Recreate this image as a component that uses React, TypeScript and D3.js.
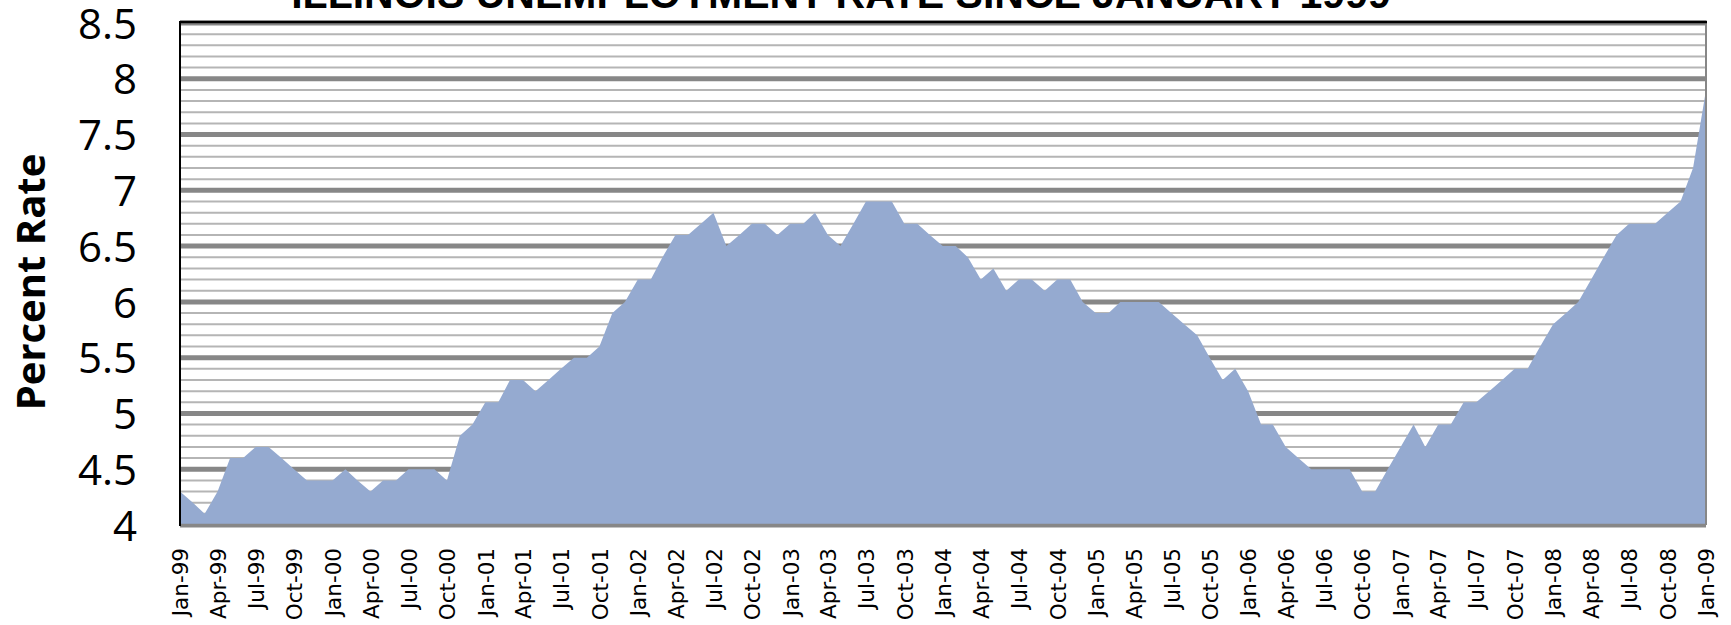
import { useEffect, useRef } from 'react'

import { area, axisBottom, axisLeft, range, scaleLinear, scaleTime, select, timeFormat } from 'd3'

const WIDTH = 1731
const HEIGHT = 625

const title = 'ILLINOIS UNEMPLOYMENT RATE SINCE JANUARY 1999'
const yAxisTitle = 'Percent Rate'

// monthly rate, Jan 1999 .. Jan 2009
const rates = [
  4.3, 4.2, 4.1, 4.3, 4.6, 4.6, 4.7, 4.7, 4.6, 4.5, 4.4, 4.4,
  4.4, 4.5, 4.4, 4.3, 4.4, 4.4, 4.5, 4.5, 4.5, 4.4, 4.8, 4.9,
  5.1, 5.1, 5.3, 5.3, 5.2, 5.3, 5.4, 5.5, 5.5, 5.6, 5.9, 6.0,
  6.2, 6.2, 6.4, 6.6, 6.6, 6.7, 6.8, 6.5, 6.6, 6.7, 6.7, 6.6,
  6.7, 6.7, 6.8, 6.6, 6.5, 6.7, 6.9, 6.9, 6.9, 6.7, 6.7, 6.6,
  6.5, 6.5, 6.4, 6.2, 6.3, 6.1, 6.2, 6.2, 6.1, 6.2, 6.2, 6.0,
  5.9, 5.9, 6.0, 6.0, 6.0, 6.0, 5.9, 5.8, 5.7, 5.5, 5.3, 5.4,
  5.2, 4.9, 4.9, 4.7, 4.6, 4.5, 4.5, 4.5, 4.5, 4.3, 4.3, 4.5,
  4.7, 4.9, 4.7, 4.9, 4.9, 5.1, 5.1, 5.2, 5.3, 5.4, 5.4, 5.6,
  5.8, 5.9, 6.0, 6.2, 6.4, 6.6, 6.7, 6.7, 6.7, 6.8, 6.9, 7.2,
  7.9,
]

const months = rates.map((_, index) => new Date(1999, index, 1))
const yTicks = [4, 4.5, 5, 5.5, 6, 6.5, 7, 7.5, 8, 8.5]
const xTicks = months.filter((_, index) => index % 3 === 0)

export default function App() {
  const svgRef = useRef<SVGSVGElement | null>(null)

  useEffect(() => {
    if (!svgRef.current) {
      return
    }

    const margin = { top: 23, right: 25, bottom: 100, left: 180 }
    const svg = select(svgRef.current)
    svg.selectAll('*').remove()

    const x = scaleTime()
      .domain([months[0], months[months.length - 1]])
      .range([margin.left, WIDTH - margin.right])
    const y = scaleLinear()
      .domain([4, 8.5])
      .range([HEIGHT - margin.bottom, margin.top])

    const minor = range(40, 86)
      .filter(value => value % 5 !== 0)
      .map(value => value / 10)

    svg
      .append('g')
      .selectAll('line')
      .data(minor)
      .join('line')
      .attr('x1', margin.left)
      .attr('x2', WIDTH - margin.right)
      .attr('y1', d => y(d))
      .attr('y2', d => y(d))
      .attr('stroke', '#b5b5b5')
      .attr('stroke-width', 2)

    svg
      .append('g')
      .selectAll('line')
      .data(yTicks)
      .join('line')
      .attr('x1', margin.left)
      .attr('x2', WIDTH - margin.right)
      .attr('y1', d => y(d))
      .attr('y2', d => y(d))
      .attr('stroke', '#878787')
      .attr('stroke-width', 5)

    const shape = area<number>()
      .x((_, index) => x(months[index]))
      .y0(y(4))
      .y1(d => y(d))

    svg.append('path').datum(rates).attr('d', shape).attr('fill', '#95aad0')

    // frame
    svg
      .append('line')
      .attr('x1', WIDTH - margin.right)
      .attr('x2', WIDTH - margin.right)
      .attr('y1', y(8.5))
      .attr('y2', y(4))
      .attr('stroke', '#878787')
      .attr('stroke-width', 2)
    svg
      .append('line')
      .attr('x1', margin.left)
      .attr('x2', WIDTH - margin.right)
      .attr('y1', y(4))
      .attr('y2', y(4))
      .attr('stroke', '#878787')
      .attr('stroke-width', 2.5)
    svg
      .append('line')
      .attr('x1', margin.left)
      .attr('x2', WIDTH - margin.right + 1)
      .attr('y1', y(8.5) - 1)
      .attr('y2', y(8.5) - 1)
      .attr('stroke', '#000')
      .attr('stroke-width', 2.5)
    svg
      .append('line')
      .attr('x1', margin.left)
      .attr('x2', margin.left)
      .attr('y1', y(8.5) - 2)
      .attr('y2', y(4) + 1)
      .attr('stroke', '#000')
      .attr('stroke-width', 2)

    svg
      .append('g')
      .attr('transform', `translate(${margin.left}, 0)`)
      .call(axisLeft(y).tickValues(yTicks).tickSize(0).tickPadding(43).tickFormat(d => String(d)))
      .call(group => group.select('.domain').remove())
      .call(group =>
        group
          .selectAll('text')
          .attr('font-family', '"Open Sans", sans-serif')
          .attr('font-size', 42)
          .attr('fill', '#000')
          .attr('dy', '0.36em')
      )

    svg
      .append('g')
      .attr('transform', `translate(0, ${y(4)})`)
      .call(axisBottom(x).tickValues(xTicks).tickSize(0).tickFormat(d => timeFormat('%b-%y')(d as Date)))
      .call(group => group.select('.domain').remove())
      .call(group =>
        group
          .selectAll('text')
          .attr('font-family', '"DejaVu Sans", sans-serif')
          .attr('font-size', 21.5)
          .attr('fill', '#000')
          .attr('transform', 'rotate(-90)')
          .attr('text-anchor', 'end')
          .attr('x', -23)
          .attr('y', 0)
          .attr('dy', '0.36em')
      )

    svg
      .append('text')
      .attr('transform', 'translate(31, 282) rotate(-90)')
      .attr('text-anchor', 'middle')
      .attr('dy', '0.36em')
      .attr('font-family', '"Open Sans", sans-serif')
      .attr('font-weight', 700)
      .attr('font-size', 40)
      .text(yAxisTitle)

    svg
      .append('text')
      .attr('x', 841)
      .attr('y', 8)
      .attr('text-anchor', 'middle')
      .attr('font-family', '"Liberation Sans", Arial, sans-serif')
      .attr('font-weight', 700)
      .attr('font-size', 41)
      .text(title)
  }, [])

  return (
    <svg
      ref={svgRef}
      width={WIDTH}
      height={HEIGHT}
      style={{ position: 'absolute', left: 0, top: 0, background: '#fff' }}
    />
  )
}
